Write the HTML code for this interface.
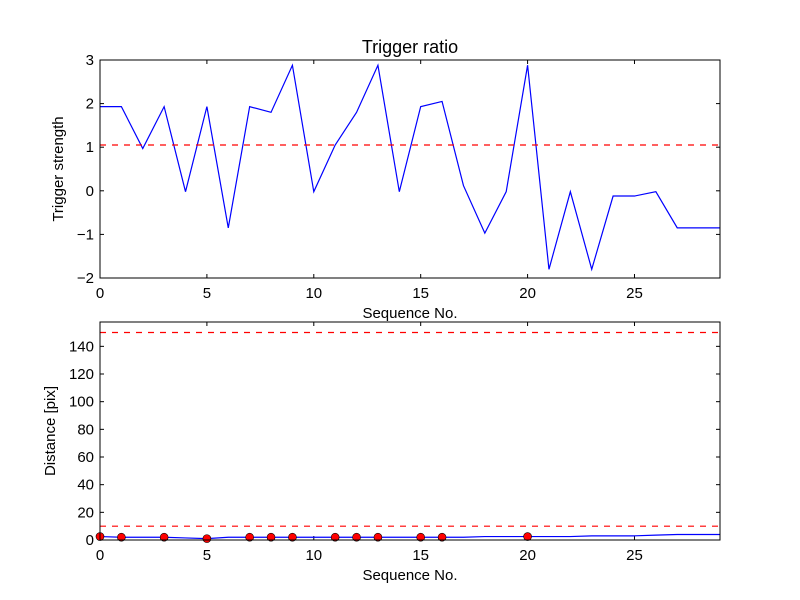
<!DOCTYPE html>
<html><head><meta charset="utf-8"><style>
body{margin:0;background:#fff;}
svg{display:block;font-family:"Liberation Sans","DejaVu Sans",sans-serif;}
</style></head><body>
<svg id="c" width="800" height="600" viewBox="0 0 800 600"></svg>
<script>
const xs = Array.from({length:30},(_,i)=>i);
const strength = [1.93,1.93,0.97,1.93,-0.02,1.93,-0.85,1.93,1.8,2.88,-0.02,1.05,1.8,2.88,-0.02,1.93,2.05,0.12,-0.97,-0.02,2.88,-1.8,-0.02,-1.8,-0.12,-0.12,-0.02,-0.85,-0.85,-0.85];
const strengthThreshold = 1.05;
const distance = [2.5,2,2,2,1.5,1,2,2,2,2,2,2,2,2,2,2,2,2,2.5,2.5,2.5,2.5,2.5,3,3,3,3.5,4,4,4];
const triggered = [0,1,3,5,7,8,9,11,12,13,15,16,20];
const distThresholds = [10,150];
const xTicks = [0,5,10,15,20,25];
const yTicksTop = [-2,-1,0,1,2,3];
const yTicksBot = [0,20,40,60,80,100,120,140];
const yLabelsTop = ["\u22122","\u22121","0","1","2","3"];

const svg=document.getElementById('c');
const NS='http://www.w3.org/2000/svg';
function mk(t,a,txt,name,parent){const e=document.createElementNS(NS,t);for(const k in a)e.setAttribute(k,a[k]);if(txt!==undefined)e.textContent=txt;


(parent||svg).appendChild(e);return e;}
const L=100,R=720;
const sx=v=>L+(v-0)/(29-0)*(R-L);

function panel(top,bot,ymin,ymax,yt,ylab,yname,prefix){
  const sy=v=>bot-(v-ymin)/(ymax-ymin)*(bot-top);
  const g=mk('g',{},undefined,prefix+'-axes');
  mk('rect',{x:L,y:top,width:R-L,height:bot-top,fill:'#fff',stroke:'none'},undefined,prefix+'-background',g);
  xTicks.forEach(t=>{const x=sx(t);
    mk('line',{x1:x,x2:x,y1:bot,y2:bot-4,stroke:'#000'},undefined,prefix+'-x-tick',g);
    mk('line',{x1:x,x2:x,y1:top,y2:top+4,stroke:'#000'},undefined,prefix+'-x-tick-top',g);
    mk('text',{x:x,y:bot+20,'font-size':15,'text-anchor':'middle'},String(t),prefix+'-x-tick-label',g);});
  yt.forEach((t,i)=>{const y=sy(t);
    mk('line',{x1:L,x2:L+4,y1:y,y2:y,stroke:'#000'},undefined,prefix+'-y-tick',g);
    mk('line',{x1:R,x2:R-4,y1:y,y2:y,stroke:'#000'},undefined,prefix+'-y-tick-right',g);
    mk('text',{x:L-6,y:y+5,'font-size':15,'text-anchor':'end'},ylab?ylab[i]:String(t),prefix+'-y-tick-label',g);});
  mk('text',{x:410,y:bot+40,'font-size':15,'text-anchor':'middle'},'Sequence No.',prefix+'-x-axis-title',g);
  return {sy,g};
}
// top
const p1=panel(60,278,-2,3,yTicksTop,yLabelsTop,'','top');
mk('text',{x:410,y:53,'font-size':18,'text-anchor':'middle'},'Trigger ratio','chart-title');
mk('text',{x:63,y:169,'font-size':15,'text-anchor':'middle',transform:'rotate(-90 63 169)'},'Trigger strength','top-y-axis-title');
mk('polyline',{points:xs.map((x,i)=>sx(x)+','+p1.sy(strength[i])).join(' '),fill:'none',stroke:'#0000ff','stroke-width':1.2},undefined,'trigger-strength-line');
mk('line',{x1:L,x2:R,y1:p1.sy(strengthThreshold),y2:p1.sy(strengthThreshold),stroke:'#ff0000','stroke-dasharray':'6,6','stroke-width':1.2},undefined,'strength-threshold-line');
mk('rect',{x:L,y:60,width:R-L,height:218,fill:'none',stroke:'#000'},undefined,'top-frame');
// bottom
const p2=panel(322,540,0,157.6,yTicksBot,null,'','bottom');
mk('text',{x:55,y:431,'font-size':15,'text-anchor':'middle',transform:'rotate(-90 55 431)'},'Distance [pix]','bottom-y-axis-title');
distThresholds.forEach(d=>mk('line',{x1:L,x2:R,y1:p2.sy(d),y2:p2.sy(d),stroke:'#ff0000','stroke-dasharray':'6,6','stroke-width':1.2},undefined,'distance-threshold-line'));
mk('polyline',{points:xs.map((x,i)=>sx(x)+','+p2.sy(distance[i])).join(' '),fill:'none',stroke:'#0000ff','stroke-width':1.2},undefined,'distance-line');
triggered.forEach(i=>mk('circle',{cx:sx(i),cy:p2.sy(distance[i]),r:4,fill:'#ff0000',stroke:'#000','stroke-width':0.6},undefined,'trigger-point'));
mk('rect',{x:L,y:322,width:R-L,height:218,fill:'none',stroke:'#000'},undefined,'bottom-frame');
</script>
</body></html>
